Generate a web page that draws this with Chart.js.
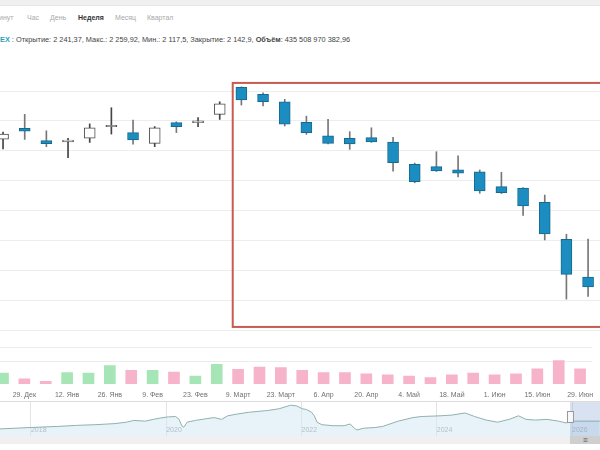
<!DOCTYPE html>
<html><head><meta charset="utf-8">
<script src="https://cdn.jsdelivr.net/npm/chart.js@4.4.1/dist/chart.umd.min.js"></script>
<style>
html,body{margin:0;padding:0;background:#fff;width:600px;height:450px;overflow:hidden;font-family:"Liberation Sans",Arial,Helvetica,sans-serif;}
#topband{position:absolute;left:0;top:0;width:600px;height:5px;background:#f0f0f0;border-bottom:1px solid #e6e6e6;}
.tab{position:absolute;top:13px;font-size:7px;color:#a9a9a9;line-height:10px;white-space:nowrap;}
.tab.active{color:#333;font-weight:bold;}
#info{position:absolute;left:0;top:35px;font-size:7.35px;color:#444;white-space:nowrap;line-height:10px;}
#info .sym{color:#2a9fba;font-weight:bold;}
canvas{position:absolute;left:0;}
#main{top:55px;}
#vol{top:345px;}
#nav{top:402px;}
#navBorder{position:absolute;left:0;top:401px;width:600px;height:1px;background:#dcdcdc;}
</style>
</head><body>
<div id="topband"></div>
<span class="tab" style="left:-1px">инут</span>
<span class="tab" style="left:27px">Час</span>
<span class="tab" style="left:50px">День</span>
<span class="tab active" style="left:78px">Неделя</span>
<span class="tab" style="left:115px">Месяц</span>
<span class="tab" style="left:147px">Квартал</span>
<div id="info"><span class="sym">EX</span> : Открытие: 2 241,37, Макс.: 2 259,92, Мин.: 2 117,5, Закрытие: 2 142,9, <b>Объём</b>: 435 508 970 382,96</div>
<canvas id="main" width="600" height="290"></canvas>
<canvas id="vol" width="600" height="60"></canvas>
<div id="navBorder"></div>
<canvas id="nav" width="600" height="42"></canvas>
<script>
// ---------- data ----------
const weekLabels = ['22. Дек','29. Дек','5. Янв','12. Янв','19. Янв','26. Янв','2. Фев','9. Фев','16. Фев','23. Фев',
  '2. Март','9. Март','16. Март','23. Март','30. Март','6. Апр','13. Апр','20. Апр','27. Апр','4. Май',
  '11. Май','18. Май','25. Май','1. Июн','8. Июн','15. Июн','22. Июн','29. Июн'];
const opens  = [3139,3175,3134,3130,3142,3181,3161,3125,3194,3194,3222,3312,3289,3264,3195,3150,3142,3144,3129,3055,3047,3036,3030,2980,2975,2928,2804,2678];
const highs  = [3163,3222,3167,3142,3190,3244,3203,3181,3197,3211,3264,3314,3294,3272,3216,3205,3164,3177,3145,3059,3097,3083,3036,3028,2977,2952,2821,2805];
const lows   = [3106,3138,3114,3077,3128,3156,3122,3114,3161,3181,3205,3253,3250,3183,3155,3123,3105,3128,3032,2993,3031,3013,2958,2957,2884,2802,2604,2613];
const closes = [3156,3166,3124,3136,3177,3185,3136,3177,3181,3200,3257,3270,3264,3189,3161,3125,3123,3130,3060,2997,3033,3025,2966,2960,2916,2822,2687,2645];
const volumes = [24,11,6,25,24,40,30,30,26,17,43,32,37,36,30,25,25,22,20,17,14,20,24,20,22,33,51,33];
const priceGrid = [2500,2600,2700,2800,2900,3000,3100,3200,3300];
const volumeGrid = [50,80];
const navYears  = [2017.54,2017.99,2018.39,2018.67,2018.96,2019.24,2019.41,2019.52,2019.69,2019.81,2019.92,2020.03,2020.14,2020.19,2020.23,2020.26,2020.31,2020.43,2020.60,2020.71,2020.82,2020.91,2021.05,2021.22,2021.50,2021.67,2021.84,2021.93,2022.01,2022.07,2022.15,2022.19,2022.23,2022.30,2022.47,2022.63,2022.72,2022.78,2022.82,2022.92,2023.09,2023.20,2023.43,2023.65,2023.77,2024.05,2024.22,2024.42,2024.56,2024.73,2024.90,2025.07,2025.21,2025.32,2025.46,2025.63,2025.80,2025.91,2026.03,2026.41];
const navValues = [2197,2317,2407,2497,2557,2647,2767,2917,2857,3007,3127,3217,3247,3007,2467,2347,2767,2917,3067,3157,3007,3307,3457,3607,3757,3907,4207,4147,3907,3847,3607,3307,2767,2557,2467,2467,2617,2257,2107,2257,2317,2407,2857,3157,3247,3307,3367,3547,3247,2947,2767,3007,3307,3007,2947,3007,2857,2707,2857,2857];
const yearTicks = [2018,2020,2022,2024,2026];
const highlight = {fromWeek:10.6, toWeek:27.8, top:3327, bottom:2511};
const navWindowFrom = 2025.97;

// ---------- setup ----------
Chart.defaults.font.family = '"Liberation Sans", Arial, Helvetica, sans-serif';
const isUp = opens.map((o,i)=>closes[i] >= o);
const weekMin = -0.14, weekMax = 27.55;
const common = {responsive:false, animation:false, events:[], layout:{padding:0},
  plugins:{legend:{display:false}, tooltip:{enabled:false}}};

const redBox = {id:'redBox', afterDatasetsDraw(chart){
  const {ctx, scales:{x,y}} = chart;
  const l = x.getPixelForValue(highlight.fromWeek), r = x.getPixelForValue(highlight.toWeek);
  const t = y.getPixelForValue(highlight.top), b = y.getPixelForValue(highlight.bottom);
  ctx.save(); ctx.strokeStyle = '#c95a50'; ctx.lineWidth = 2; ctx.strokeRect(l, t, r-l, b-t); ctx.restore();
}};

new Chart(document.getElementById('main'), {
  type:'bar',
  data:{datasets:[
    {label:'body', data:opens.map((o,i)=>({x:i, y:[o, closes[i]]})),
     backgroundColor:isUp.map(u=>u?'#ffffff':'#1b8dc1'), borderColor:isUp.map(u=>u?'#4a4a4a':'#176a8e'),
     borderWidth:1, borderSkipped:false, barThickness:11, grouped:false},
    {label:'wick', data:lows.map((l,i)=>({x:i, y:[l, highs[i]]})),
     backgroundColor:isUp.map(u=>u?'#444':'#777'), barThickness:1, grouped:false}
  ]},
  options:{...common,
    scales:{
      x:{type:'linear', min:weekMin, max:weekMax, offset:false, display:false},
      y:{min:2450.6, max:3420.4, position:'right', border:{display:false},
         grid:{color:'#ededed', drawTicks:false}, ticks:{display:false},
         afterBuildTicks:s=>{s.ticks = priceGrid.map(v=>({value:v}));}, afterFit:s=>{s.width=0;}}
    }},
  plugins:[redBox]
});

new Chart(document.getElementById('vol'), {
  type:'bar',
  data:{datasets:[{label:'Объём', data:volumes.map((v,i)=>({x:i, y:v})),
    backgroundColor:isUp.map(u=>u?'#a6e5b6':'#f6b3c9'), barThickness:11, grouped:false}]},
  options:{...common,
    scales:{
      x:{type:'linear', min:weekMin, max:weekMax, offset:false, border:{display:false},
         grid:{display:false, drawTicks:false},
         afterBuildTicks:s=>{s.ticks = weekLabels.map((w,i)=>({value:i})).filter(t=>t.value%2===1);},
         afterFit:s=>{s.height=21;},
         ticks:{padding:7, color:'#707070', font:{size:7}, maxRotation:0, autoSkip:false,
                callback:v=>weekLabels[v]}},
      y:{min:0, max:85, position:'right', border:{display:false},
         grid:{color:'#ececec', drawTicks:false}, ticks:{display:false},
         afterBuildTicks:s=>{s.ticks = volumeGrid.map(v=>({value:v}));}, afterFit:s=>{s.width=0;}}
    }}
});

const navigatorDecor = {id:'navDecor', afterDraw(chart){
  const {ctx, chartArea:a, scales:{x}} = chart;
  const W = chart.width;
  const sx = x.getPixelForValue(navWindowFrom);
  ctx.save();
  ctx.fillStyle = '#f0f0f0'; ctx.fillRect(0, a.bottom, W, 8);
  ctx.fillStyle = 'rgba(120,150,205,0.28)'; ctx.fillRect(sx, a.top, W-sx, a.bottom-a.top);
  ctx.fillStyle = '#cfcfcf'; ctx.fillRect(sx, a.bottom, W-sx, 8);
  ctx.strokeStyle = '#888'; ctx.lineWidth = 1;
  const cx = Math.round((sx+W)/2)+0.5;
  for (let k=-1;k<=1;k++){ ctx.beginPath(); ctx.moveTo(cx-2, a.bottom+4+k*1.5); ctx.lineTo(cx+2, a.bottom+4+k*1.5); ctx.stroke(); }
  ctx.fillStyle = '#f8f8f8'; ctx.strokeStyle = '#999';
  ctx.fillRect(sx-3, a.top+9, 6, 12); ctx.strokeRect(sx-2.5, a.top+9.5, 6, 11);
  ctx.restore();
}};

new Chart(document.getElementById('nav'), {
  type:'line',
  data:{datasets:[{label:'MOEX', data:navYears.map((y,i)=>({x:y, y:navValues[i]})),
    borderColor:'#8fb1ad', borderWidth:1, pointRadius:0, tension:0,
    fill:'start', backgroundColor:'rgba(214,233,244,0.55)'}]},
  options:{...common,
    scales:{
      x:{type:'linear', min:2017.542, max:2026.414, border:{display:false},
         grid:{color:'#e3e3e3', drawTicks:false},
         afterBuildTicks:s=>{s.ticks = yearTicks.map(v=>({value:v}));},
         afterFit:s=>{s.height=8;},
         ticks:{mirror:true, padding:2, align:'start', color:'#8a8a8a', font:{size:7}, callback:v=>String(v)}},
      y:{min:1597, max:4477, display:false}
    }},
  plugins:[navigatorDecor]
});
</script>
</body></html>
